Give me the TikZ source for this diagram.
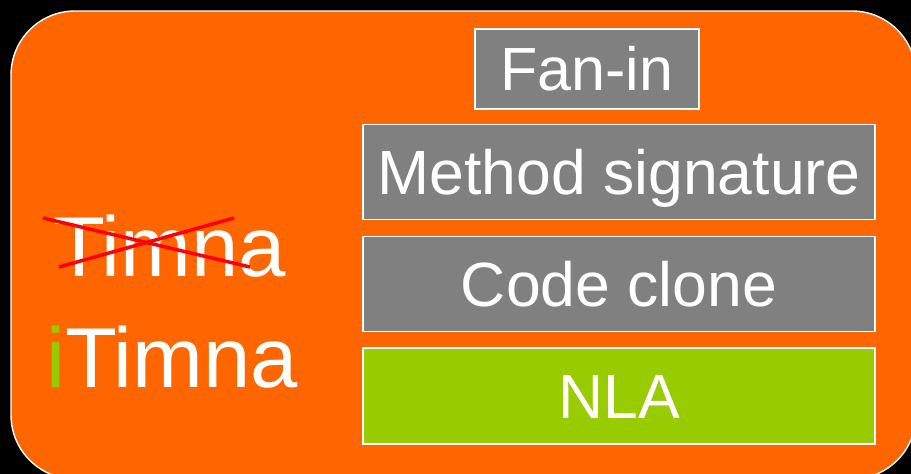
\documentclass[tikz,border=0pt]{standalone}
\usepackage{fontspec}
\setmainfont{Liberation Sans}
\definecolor{panelorange}{HTML}{FF6600}
\definecolor{boxgray}{HTML}{808080}
\definecolor{nlagreen}{HTML}{99CC00}
\definecolor{strike}{HTML}{FF0000}
\begin{document}
\begin{tikzpicture}[x=1pt,y=-1pt,
  item/.style={draw=white, line width=1.6pt, text=white, inner sep=0pt,
    text height=44.7pt, text depth=0pt,
    font=\fontsize{62.5}{68}\selectfont},
  gray item/.style={item, fill=boxgray},
  big label/.style={anchor=base west, inner sep=0pt, text=white,
    font=\fontsize{85}{90}\selectfont}]
  % page and panel
  \fill[black] (0,0) rectangle (911,474);
  \useasboundingbox (0,0) rectangle (911,474);
  \draw[white, line width=1.4pt, fill=panelorange, rounded corners=64pt]
    (11,11) rectangle (916,479);
  % metric boxes
  \node[gray item, minimum width=224pt, minimum height=80pt,
    text height=43.7pt, font=\fontsize{61}{66}\selectfont] (fanin) at (587,69) {Fan-in};
  \node[gray item, minimum width=512pt, minimum height=95pt] (method) at (619,172) {Method signature};
  \node[gray item, minimum width=512pt, minimum height=95pt] (clone) at (619,284) {Code clone};
  \node[item, fill=nlagreen, minimum width=512pt, minimum height=96pt] (nla) at (619,396) {NLA};
  % tool names
  \node[big label] (old) at (53,276) {Timna};
  \node[big label] (new) at (46,387) {\textcolor{nlagreen}{i}Timna};
  % crossed-out old name
  \coordinate (s1a) at (43,218);
  \coordinate (s1b) at (250,267);
  \coordinate (s2a) at (59,267);
  \coordinate (s2b) at (234,218);
  \draw[strike, line width=3.5pt] (s1a) -- (s1b);
  \draw[strike, line width=3.5pt] (s2a) -- (s2b);
\end{tikzpicture}
\end{document}
